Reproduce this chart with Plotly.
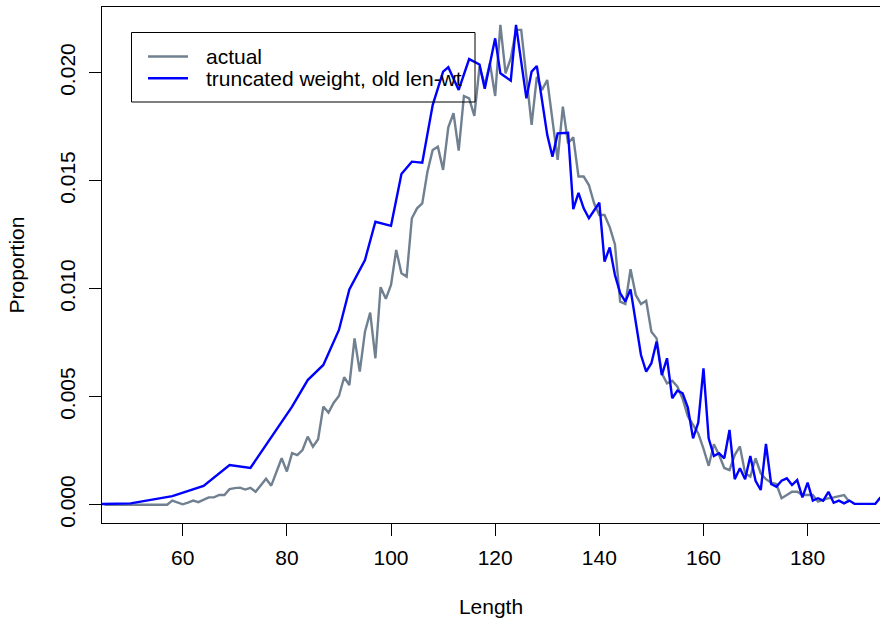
import plotly.graph_objects as go

# Length-frequency proportions, observed
actual_len = list(range(45, 189))
actual_prop = (
    [0.0] * 13 +  # 45-57
    [0.00019, 0.0001, 0.00002, 0.0001, 0.00019, 0.00012, 0.00022, 0.00034, 0.00034, 0.00045,
     0.00045, 0.00072, 0.00077, 0.00079, 0.0007, 0.00078, 0.0006, 0.0009, 0.0012, 0.00088,
     0.0015, 0.00215, 0.00154, 0.00239, 0.0023, 0.00253, 0.00315, 0.00269, 0.00303, 0.00454,
     0.00426, 0.00472, 0.00503, 0.0059, 0.00554, 0.0077, 0.00616, 0.00801, 0.00889, 0.00678,
     0.01007, 0.00953, 0.01017, 0.01179, 0.01071, 0.01056, 0.01326, 0.01372, 0.01395, 0.01542,
     0.01642, 0.01657, 0.0155, 0.01747, 0.01812, 0.01639, 0.01892, 0.01881, 0.018, 0.02028,
     0.01943, 0.02043, 0.01892, 0.02221, 0.01997, 0.02067, 0.02198, 0.02198, 0.01981, 0.01758,
     0.01981, 0.0192, 0.01966, 0.0178, 0.01596, 0.01843, 0.01673, 0.01701, 0.01519, 0.01519,
     0.0148, 0.01395, 0.01341, 0.01341, 0.01285, 0.01205, 0.0094, 0.00929, 0.0109, 0.00971,
     0.00929, 0.00944, 0.00801, 0.0077, 0.00608, 0.00562, 0.00574, 0.00546, 0.0049, 0.0041,
     0.0037, 0.0033, 0.0026, 0.0018, 0.0028, 0.0023, 0.0017, 0.0016, 0.0023, 0.0027,
     0.00145, 0.0013, 0.00215, 0.00145, 0.00118, 0.00102, 0.00096, 0.0003, 0.00045, 0.0006,
     0.0006, 0.00045, 0.00045, 0.00045, 0.00014, 0.00022, 0.0003, 0.00034, 0.0004, 0.00045,
     0.00014]
)

# Predicted proportions from truncated weight with the old length-weight relation
trunc_len = [40, 50, 58, 64, 69, 73, 81, 84, 87, 90, 92, 95, 97, 100, 102, 104, 106, 108,
             110, 111, 113, 115, 117, 118, 120, 121, 123, 124, 126, 127, 128, 130, 131, 132,
             134, 135, 136, 137, 138, 140, 141, 142, 143, 144, 145, 146, 148, 149, 150, 151,
             152, 153, 154, 155, 156, 157, 158, 159, 160, 161, 162, 163, 164, 165, 166, 167,
             168, 169, 170, 171, 172, 173, 174, 175, 176, 177, 178, 179, 180, 181, 182, 183,
             184, 185, 186, 187, 188, 189, 193, 194]
trunc_prop = [0.00001, 0.00006, 0.0004, 0.00087, 0.00184, 0.0017, 0.00454, 0.00577, 0.00647,
              0.00809, 0.00997, 0.01133, 0.0131, 0.01291, 0.01531, 0.01588, 0.01583, 0.0185,
              0.02005, 0.02025, 0.0192, 0.02063, 0.02038, 0.01925, 0.02159, 0.01997, 0.01963,
              0.02221, 0.01881, 0.02005, 0.02031, 0.01712, 0.01611, 0.01719, 0.01722, 0.01368,
              0.01444, 0.01372, 0.01326, 0.01398, 0.01125, 0.01191, 0.01063, 0.0098, 0.0094,
              0.00997, 0.00693, 0.00616, 0.00655, 0.00755, 0.006, 0.00678, 0.00493, 0.00528,
              0.00516, 0.0045, 0.00307, 0.0038, 0.00631, 0.00307, 0.00225, 0.00238, 0.00215,
              0.00346, 0.00118, 0.00169, 0.00118, 0.00225, 0.00111, 0.00068, 0.00281, 0.00096,
              0.00083, 0.00111, 0.00122, 0.00091, 0.00114, 0.00034, 0.00102, 0.00019, 0.0003,
              0.00019, 0.0006, 0.00009, 0.00019, 0.00006, 0.00019, 0.00004, 0.00004, 0.00034]

x_ticks = [60, 80, 100, 120, 140, 160, 180]
y_ticks = [0.0, 0.005, 0.010, 0.015, 0.020]
y_tick_text = ["0.000", "0.005", "0.010", "0.015", "0.020"]

series_names = ["actual", "truncated weight, old len-wt"]
series_colors = ["#708090", "#0000FF"]

FONT = "Liberation Sans, Arial, sans-serif"
FS = 21

fig = go.Figure()
fig.add_trace(go.Scatter(x=actual_len, y=actual_prop, mode="lines",
                         line=dict(color=series_colors[0], width=2.4),
                         name=series_names[0], showlegend=False))
fig.add_trace(go.Scatter(x=trunc_len, y=trunc_prop, mode="lines",
                         line=dict(color=series_colors[1], width=2.4),
                         name=series_names[1], showlegend=False))

# Boxed legend in the upper left of the plotting region
W_PLOT, H_PLOT, L_M, T_M = 778, 516, 102, 7


def px(xp):
    return (xp - L_M) / W_PLOT


def py(yp):
    return (T_M + H_PLOT - yp) / H_PLOT


shapes = [dict(type="rect", xref="paper", yref="paper",
               x0=px(131.5), x1=px(475), y0=py(102), y1=py(32.5),
               line=dict(color="black", width=1), fillcolor="rgba(0,0,0,0)")]
annotations = []
for i, (nm, col) in enumerate(zip(series_names, series_colors)):
    yy = py(56.5 + 21.8 * i)
    shapes.append(dict(type="line", xref="paper", yref="paper",
                       x0=px(148), x1=px(188), y0=yy, y1=yy,
                       line=dict(color=col, width=2.4)))
    annotations.append(dict(xref="paper", yref="paper", x=px(204), y=yy,
                            xanchor="left", yanchor="middle", text=nm, showarrow=False,
                            font=dict(family=FONT, size=FS, color="black")))

fig.update_layout(
    width=880, height=620,
    margin=dict(l=L_M, r=0, t=T_M, b=620 - T_M - H_PLOT, autoexpand=False),
    paper_bgcolor="white", plot_bgcolor="white",
    font=dict(family=FONT, size=FS, color="black"),
    shapes=shapes, annotations=annotations,
    xaxis=dict(range=[44.5, 193.9], tickvals=x_ticks, ticks="outside", ticklen=12,
               tickcolor="black", tickwidth=1, showgrid=False, zeroline=False,
               showline=True, linecolor="black", linewidth=1, mirror=True,
               tickfont=dict(size=FS), ticklabelstandoff=4,
               title=dict(text="Length", standoff=31, font=dict(size=FS))),
    yaxis=dict(range=[-0.000847, 0.02304], tickvals=y_ticks, ticktext=y_tick_text,
               ticks="outside", ticklen=12, tickcolor="black", tickwidth=1,
               tickangle=-90, showgrid=False, zeroline=False,
               showline=True, linecolor="black", linewidth=1,
               tickfont=dict(size=FS), ticklabelstandoff=6,
               title=dict(text="Proportion", standoff=25, font=dict(size=FS))),
)

fig.write_html("out.html")
